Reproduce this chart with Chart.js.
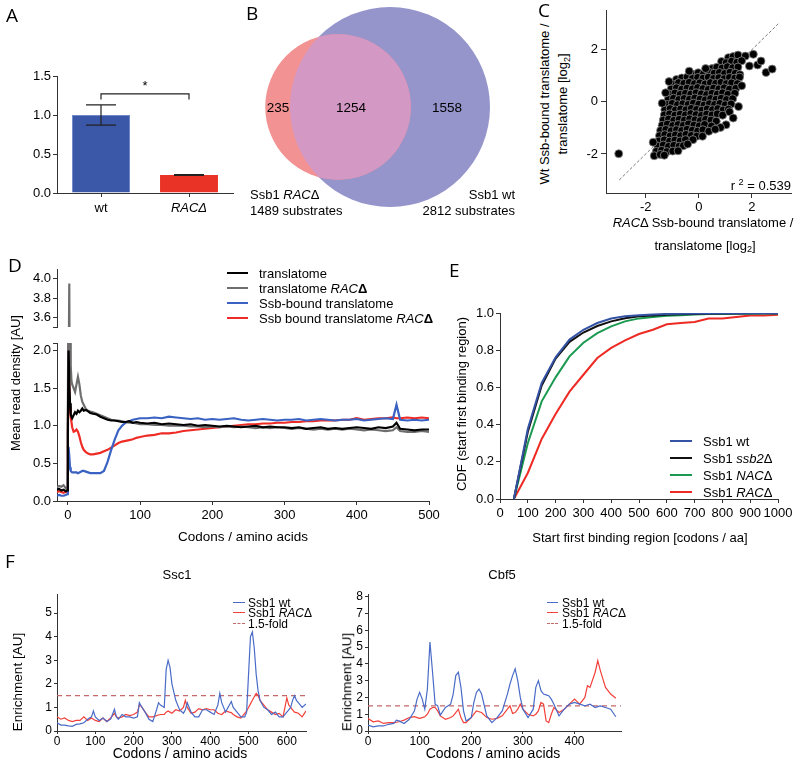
<!DOCTYPE html>
<html><head><meta charset="utf-8">
<script src="https://cdn.jsdelivr.net/npm/chart.js@4.4.0/dist/chart.umd.min.js"></script>
<style>
body{margin:0;background:#fff;}
#root{position:relative;width:800px;height:766px;overflow:hidden;font-family:'Liberation Sans',Arial,sans-serif;color:#000;}
canvas{position:absolute;}
.t{position:absolute;white-space:nowrap;line-height:1;}
.t sub{font-size:0.7em;vertical-align:-0.3em;line-height:0;}
.t sup{font-size:0.7em;vertical-align:0.5em;line-height:0;}
</style></head><body><div id="root"></div>
<script>
// ---------------- DATA ----------------
// A
const aCategories = ['wt', 'RACΔ'];
const aMeans = [1.0, 0.23];
const aErrors = [0.13, 0.005];
const aTicksY = [0, 0.5, 1.0, 1.5];
const aSignificance = { from: 0, to: 1, level: 1.27, label: '*' };

// B
const vennSets = ['Ssb1 RACΔ', 'Ssb1 wt'];
const vennTotals = [1489, 2812];
const vennOnly = [235, 1558];
const vennShared = 1254;

// C
const cPoints = [
 [1.12,1.70],[1.30,1.74],[1.48,1.80],[1.76,1.76],[2.06,1.83],
 [0.86,1.55],[1.04,1.50],[1.24,1.56],[1.44,1.52],[1.62,1.58],
 [0.50,1.28],[0.68,1.33],[0.88,1.30],[1.08,1.35],[1.28,1.31],[1.48,1.34],[1.91,1.38],[2.22,1.42],[2.35,1.57],
 [-0.22,1.06],[-0.02,1.12],[0.18,1.08],[0.38,1.14],[0.58,1.10],[0.78,1.13],[0.98,1.09],[1.18,1.14],[1.38,1.10],[1.55,1.05],[2.54,1.13],[2.77,1.26],
 [-0.84,0.86],[-0.64,0.92],[-0.44,0.95],[-0.24,0.90],[-0.04,0.94],[0.16,0.91],[0.36,0.95],[0.56,0.90],[0.76,0.93],[0.96,0.89],[1.16,0.94],[1.36,0.91],[1.54,0.95],
 [-0.96,0.68],[-0.76,0.74],[-0.56,0.71],[-0.36,0.75],[-0.16,0.70],[0.04,0.73],[0.24,0.69],[0.44,0.74],[0.64,0.71],[0.84,0.75],[1.04,0.70],[1.24,0.73],[1.46,0.70],
 [-1.04,0.50],[-0.84,0.54],[-0.64,0.49],[-0.44,0.53],[-0.24,0.50],[-0.04,0.55],[0.16,0.51],[0.36,0.48],[0.56,0.53],[0.76,0.50],[0.96,0.54],[1.16,0.49],[1.40,0.52],
 [-1.10,0.30],[-0.90,0.34],[-0.70,0.29],[-0.50,0.33],[-0.30,0.30],[-0.10,0.35],[0.10,0.31],[0.30,0.28],[0.50,0.33],[0.70,0.30],[0.90,0.35],[1.10,0.29],[1.36,0.33],
 [-1.15,0.10],[-0.95,0.14],[-0.75,0.09],[-0.55,0.13],[-0.35,0.10],[-0.15,0.15],[0.05,0.11],[0.25,0.08],[0.45,0.13],[0.65,0.10],[0.85,0.14],[1.05,0.09],[1.28,0.12],
 [-1.20,-0.10],[-1.00,-0.06],[-0.80,-0.11],[-0.60,-0.07],[-0.40,-0.10],[-0.20,-0.05],[0.00,-0.09],[0.20,-0.12],[0.40,-0.07],[0.60,-0.10],[0.80,-0.06],[1.00,-0.11],[1.22,-0.08],
 [-1.28,-0.30],[-1.08,-0.26],[-0.88,-0.31],[-0.68,-0.27],[-0.48,-0.30],[-0.28,-0.25],[-0.08,-0.29],[0.12,-0.32],[0.32,-0.27],[0.52,-0.30],[0.72,-0.26],[0.92,-0.31],[1.12,-0.28],
 [-1.30,-0.50],[-1.10,-0.46],[-0.90,-0.51],[-0.70,-0.47],[-0.50,-0.50],[-0.30,-0.45],[-0.10,-0.49],[0.10,-0.52],[0.30,-0.47],[0.50,-0.50],[0.70,-0.46],[0.90,-0.51],[1.16,-0.38],
 [-1.34,-0.70],[-1.14,-0.66],[-0.94,-0.71],[-0.74,-0.67],[-0.54,-0.70],[-0.34,-0.65],[-0.14,-0.69],[0.06,-0.72],[0.26,-0.67],[0.46,-0.70],[0.66,-0.74],[1.03,-0.88],
 [-1.38,-0.90],[-1.18,-0.86],[-0.98,-0.91],[-0.78,-0.87],[-0.58,-0.90],[-0.38,-0.85],[-0.18,-0.89],[0.02,-0.92],[0.22,-0.87],[0.48,-0.93],
 [-1.44,-1.10],[-1.24,-1.06],[-1.04,-1.11],[-0.84,-1.07],[-0.64,-1.10],[-0.44,-1.05],[-0.24,-1.09],[-0.04,-1.12],[0.16,-1.07],[0.38,-1.13],
 [-1.48,-1.30],[-1.28,-1.26],[-1.08,-1.31],[-0.88,-1.27],[-0.68,-1.30],[-0.48,-1.25],[-0.28,-1.29],[-0.08,-1.32],[0.14,-1.32],
 [-1.50,-1.50],[-1.30,-1.46],[-1.10,-1.51],[-0.90,-1.47],[-0.70,-1.50],[-0.50,-1.45],[-0.22,-1.45],
 [-1.54,-1.70],[-1.34,-1.66],[-1.14,-1.71],[-0.94,-1.67],[-0.74,-1.70],[-0.58,-1.68],
 [-1.60,-1.90],[-1.40,-1.86],[-1.20,-1.91],[-0.98,-1.89],
 [-1.68,-2.07],[-1.45,-2.02],[-1.30,-2.05],
 [-1.12,0.78],[-1.25,0.35],[-1.38,-0.05],[1.62,0.62],[1.50,-0.18],[0.82,-0.98],[0.62,-1.05],[-0.42,-1.62],[-0.78,-1.88],[-1.72,-1.55],[-0.36,1.18],[0.26,1.28],[1.30,-0.62],
 [-3.02,-1.99]
];
const cIdentity = [-3, 3];
const cTicks = [-2, 0, 2];
const cR2 = '0.539';

// D
const dCodons = [-15,-12,-9,-6,-3,-1,0,1,2,3,4,5,6,8,10,12,14,16,18,20,22,25,28,31,35,40,45,50,55,60,65,70,75,80,85,90,95,100,
 110,120,130,140,150,160,170,180,190,200,210,220,230,240,250,260,270,280,290,300,310,320,330,340,350,360,370,380,390,400,410,420,430,440,450,455,460,470,480,490,500];
const dTranslatome = [0.15,0.16,0.14,0.15,0.13,0.14, 0.9,2.0,1.6,1.3,1.15,1.12,1.1, 1.14,1.18,1.16,1.2,1.18,1.2,1.23,1.2, 1.21,1.19,1.17,1.16,
 1.15,1.12,1.1,1.08,1.07,1.07,1.06,1.05,1.05,1.06,1.04,1.05,1.04,
 1.03,1.04,1.02,1.03,1.02,1.01,1.02,1.0,1.01,1.0, 0.99,1.0,0.99,0.98,0.99,1.0,0.98,0.99,0.98,0.98,
 0.97,0.98,0.96,0.97,0.98,0.96,0.97,0.96,0.97,0.98, 0.97,0.96,0.98,0.97,0.99, 1.04, 0.96,0.95,0.94,0.95,0.95];
const dTranslatomeRac = [0.18,0.2,0.19,0.21,0.17,0.18, 1.2,2.9,3.95,2.2,1.8,1.6,1.55, 1.5,1.45,1.55,1.65,1.55,1.4,1.32,1.28, 1.22,1.2,1.19,1.18,
 1.16,1.14,1.12,1.1,1.08,1.07,1.07,1.06,1.05,1.04,1.04,1.03,1.02,
 1.02,1.01,1.01,1.0,1.0,1.0,0.99,0.99,0.98,0.99, 0.98,0.99,0.98,0.99,0.98,0.97,0.98,0.97,0.98,0.97,
 0.96,0.97,0.96,0.95,0.96,0.95,0.96,0.95,0.96,0.95, 0.94,0.95,0.94,0.93,0.94, 0.98, 0.93,0.92,0.92,0.93,0.92];
const dSsbBound = [0.07,0.08,0.07,0.07,0.08,0.09, 0.3,0.72,0.6,0.45,0.4,0.39,0.38, 0.38,0.38,0.38,0.37,0.38,0.39,0.4,0.4, 0.39,0.38,0.37,0.37,
 0.37,0.37,0.4,0.52,0.68,0.82,0.94,1.0,1.04,1.06,1.08,1.09,1.1,
 1.1,1.11,1.1,1.12,1.11,1.1,1.09,1.1,1.08,1.09, 1.08,1.09,1.1,1.08,1.07,1.08,1.09,1.08,1.07,1.08,
 1.08,1.09,1.07,1.08,1.09,1.08,1.07,1.08,1.08,1.09, 1.07,1.08,1.09,1.1,1.09, 1.28, 1.08,1.07,1.08,1.07,1.08];
const dSsbBoundRac = [0.12,0.13,0.12,0.11,0.12,0.12, 0.7,2.15,1.5,1.25,1.12,1.05,0.98, 0.92,0.93,0.95,0.92,0.86,0.78,0.72,0.68, 0.65,0.63,0.62,0.62,
 0.63,0.64,0.66,0.68,0.71,0.74,0.77,0.79,0.8,0.81,0.82,0.84,0.85,
 0.87,0.88,0.9,0.9,0.91,0.93,0.94,0.95,0.96,0.97, 0.98,0.99,1.0,1.01,1.02,1.02,1.03,1.03,1.04,1.04,
 1.05,1.05,1.06,1.06,1.07,1.07,1.07,1.08,1.08,1.1, 1.08,1.09,1.1,1.1,1.11, 1.1, 1.1,1.11,1.1,1.11,1.1];
const dTicksX = [0, 100, 200, 300, 400, 500];
const dTicksYLow = [0, 0.5, 1.0, 1.5, 2.0, 2.1];
const dTicksYHigh = [3.5, 3.6, 3.8, 4.0];

// E
const eStart = [50,100,150,200,250,300,350,400,450,500,550,600,650,700,750,800,850,900,950,1000];
const eWt   = [0,0.376,0.624,0.762,0.857,0.91,0.946,0.97,0.982,0.988,0.992,0.995,0.996,0.997,0.997,0.998,0.998,0.998,0.999,0.999];
const eSsb2 = [0,0.36,0.61,0.755,0.845,0.895,0.93,0.955,0.972,0.982,0.987,0.99,0.993,0.995,0.996,0.997,0.997,0.998,0.998,0.998];
const eNac  = [0,0.30,0.525,0.654,0.767,0.84,0.892,0.928,0.955,0.971,0.978,0.985,0.988,0.992,0.994,0.995,0.996,0.996,0.997,0.997];
const eRac  = [0,0.14,0.323,0.457,0.577,0.668,0.758,0.812,0.853,0.887,0.91,0.939,0.946,0.952,0.97,0.971,0.978,0.986,0.987,0.99];
const eTicksX = [0,100,200,300,400,500,600,700,800,900,1000];
const eTicksY = [0,0.2,0.4,0.6,0.8,1.0];

// F
const ssc1Codons = [0,10,20,30,40,50,60,70,80,90,95,100,110,120,130,140,150,155,160,170,180,190,200,210,215,220,230,240,250,260,265,270,280,285,290,295,300,310,320,330,335,340,350,360,370,380,390,400,410,420,425,430,440,450,455,460,470,480,490,495,500,505,510,515,520,525,530,540,550,560,570,580,590,600,605,610,615,620,625,630,640,650];
const ssc1Wt = [0.35,0.25,0.25,0.22,0.2,0.28,0.3,0.35,0.5,0.6, 0.85, 0.6,0.45,0.55,0.4,0.5,0.92, 0.6, 0.5,0.7,0.6,0.6,0.55,0.6, 1.2, 1.05,0.8,0.5,0.4,0.9, 1.2, 1.1,1.0, 2.6,3.0,2.7, 2.0,1.3,0.9,0.75, 0.9, 1.2,0.8,0.6,0.6,0.9,0.9,0.8,0.7,1.1, 1.6, 1.2,0.8,1.1, 1.25, 1.0,0.8,0.6,0.6, 0.8, 2.4, 4.0,4.2,3.5,2.4,1.7, 1.3,1.0,0.9,0.7,0.8,0.6,0.6,0.8, 0.9,1.0,1.3,1.5,1.3, 1.2,1.0,1.15];
const ssc1Rac = [0.6,0.5,0.55,0.45,0.4,0.45,0.45,0.6,0.45,0.55, 0.5, 0.45,0.4,0.55,0.4,0.55,0.75, 0.6, 0.55,0.6,0.7,0.65,0.7,0.8, 1.1, 1.05,0.8,0.6,0.6,0.65, 0.68, 0.7,0.7, 0.8,0.85,0.8, 0.75,0.9,0.85,1.0, 1.3, 1.0,0.75,0.8,0.95,0.9,0.95,0.9,0.9,0.75, 0.72, 0.7,0.85,0.8, 0.78, 0.7,0.6,0.55,0.75, 0.85, 1.0, 1.15,1.3,1.45,1.6,1.5, 1.3,1.1,0.9,0.8,0.7,0.75,0.6,1.4, 1.1,1.0,0.9,0.8,0.78, 0.75,0.6,0.85];
const cbf5Codons = [0,10,20,30,40,50,55,60,70,80,90,95,100,105,110,115,120,125,130,135,140,150,160,165,170,175,180,185,190,200,205,210,215,220,230,240,250,260,270,275,280,285,290,295,300,310,320,325,330,335,340,345,350,355,360,370,380,390,400,410,420,425,430,440,445,450,460,470,480];
const cbf5Wt = [0.35,0.25,0.3,0.3,0.4,0.45, 0.65, 0.6,0.45,0.7,1.2, 1.9,2.3,1.9,1.3,2.5,5.3,3.5,1.6,1.5,0.95, 1.4,1.6, 2.2,3.3,3.5,2.6,1.2,0.6, 0.8,1.7,2.3,2.5,2.2, 0.9,0.5,0.8,1.2,2.2, 2.8,3.3,3.7,3.0,2.0,1.3, 0.8,1.3, 2.6,3.0,2.4,2.2,2.15,2.1,1.9,1.6, 0.9,1.3,1.6,1.7,1.6,1.5, 1.55,1.6, 1.4,1.45,1.5, 1.4,1.3,0.85];
const cbf5Rac = [0.75,0.55,0.6,0.45,0.5,0.5, 0.52, 0.55,0.65,0.8,0.85, 0.8,0.75,0.8,0.85,1.0,1.3,1.4,1.4,1.2,0.9, 0.7,0.8, 0.9,1.1,1.3,0.8,0.5,0.5, 0.8,1.0,1.2,1.15,1.1, 0.8,0.7,0.75,0.9,1.3, 1.5,1.05,1.1,1.3,1.6,1.3, 1.0,0.9, 1.0,1.2,1.7,1.6,0.6,0.5,1.0,1.4, 1.1,1.3,1.6,1.9,1.6,2.0, 2.7,2.6, 3.5,4.2,3.6, 2.6,2.2,1.95];
const foldThreshold = 1.5;
const ssc1TicksX = [0,100,200,300,400,500,600];
const ssc1TicksY = [0,1,2,3,4,5];
const cbf5TicksX = [0,100,200,300,400];
const cbf5TicksY = [0,1,2,3,4,5,6,7,8];

// ---------------- STYLE / HELPERS ----------------
const FONT = "'Liberation Sans', Arial, sans-serif";
const AXIS = '#333';
const C_BLUE_BAR = '#3b57a7', C_RED_BAR = '#ea3327';
const V_RED = '#f29292', V_BLUE = '#9595cc', V_OVERLAP = '#d398c4';
const D_COLORS = ['#000000', '#6e6e6e', '#3a62c2', '#ee2b25'];
const E_COLORS = ['#3553a5', '#111111', '#1a9a50', '#ee2a24'];
const F_BLUE = '#4a6cc8', F_RED = '#f2413a', F_DASH = '#c46a6a';

const root = document.getElementById('root');

function addText(html, x, y, o = {}) {
  const d = document.createElement('div');
  d.className = 't';
  d.innerHTML = html;
  d.style.fontSize = (o.size || 13) + 'px';
  d.style.left = x + 'px';
  d.style.top = y + 'px';
  if (o.family) d.style.fontFamily = o.family;
  if (o.lh) d.style.lineHeight = o.lh + 'px';
  if (o.center) d.style.textAlign = 'center';
  let tr = 'translate(-50%,-50%)';
  if (o.rot) tr = 'translate(-50%,-50%) rotate(-90deg)';
  else if (o.align === 'l') tr = 'translate(0,-50%)';
  else if (o.align === 'r') tr = 'translate(-100%,-50%)';
  else if (o.align === 'tl') tr = 'none';
  d.style.transform = tr;
  root.appendChild(d);
  return d;
}

function legend(x0, x1, tx, ys, items, size) {
  items.forEach((it, i) => {
    const s = document.createElement('div');
    s.style.cssText = `position:absolute;left:${x0}px;top:${ys[i] - it.w / 2}px;width:${x1 - x0}px;height:0;border-top:${it.w}px ${it.dash ? 'dashed' : 'solid'} ${it.color};`;
    root.appendChild(s);
    addText(it.label, tx, ys[i], { align: 'l', size });
  });
}

function axis(o) {
  const cfg = {
    type: o.type || 'linear',
    display: true,
    border: { display: true, color: AXIS, width: 1 },
    grid: { drawOnChartArea: false, drawTicks: true, tickLength: o.tl ?? 4, color: AXIS, lineWidth: 1, offset: false },
    ticks: { color: '#000', font: o.font || { family: FONT, size: o.fs || 13 }, padding: o.pad ?? 2, autoSkip: false, maxRotation: 0, minRotation: 0,
             callback: o.fmt || (v => String(v)) },
    afterFit: (ax) => { if (ax.isHorizontal()) ax.height = o.size; else ax.width = o.size; }
  };
  if (cfg.type === 'linear') { cfg.min = o.min; cfg.max = o.max; }
  if (o.ticks) cfg.afterBuildTicks = (ax) => { ax.ticks = o.ticks.map(v => ({ value: v })); };
  return cfg;
}

function makeChart(box, area, config) {
  const c = document.createElement('canvas');
  c.width = box[2] - box[0]; c.height = box[3] - box[1];
  c.style.left = box[0] + 'px'; c.style.top = box[1] + 'px';
  root.appendChild(c);
  const o = config.options = config.options || {};
  o.responsive = false; o.maintainAspectRatio = false; o.animation = false; o.devicePixelRatio = 1; o.events = [];
  o.layout = { autoPadding: false, padding: { left: config.hiddenY ? area[0] - box[0] : 0, top: area[1] - box[1], right: box[2] - area[2], bottom: config.hiddenX ? box[3] - area[3] : 0 } };
  o.plugins = Object.assign({ legend: { display: false }, tooltip: { enabled: false }, title: { display: false } }, o.plugins || {});
  return new Chart(c.getContext('2d'), config);
}
const xy = (xs, ys) => xs.map((x, i) => ({ x, y: ys[i] }));
const line = (data, color, w, extra) => Object.assign({ data, borderColor: color, backgroundColor: color, borderWidth: w, pointRadius: 0, tension: 0, fill: false }, extra || {});

// ---------------- PANEL A ----------------
const aPlugin = {
  id: 'aErr',
  afterDatasetsDraw(ch) {
    const ctx = ch.ctx, y = ch.scales.y, meta = ch.getDatasetMeta(0);
    ctx.save(); ctx.strokeStyle = '#222'; ctx.lineWidth = 1.2;
    aMeans.forEach((m, i) => {
      const x = meta.data[i].x, t = y.getPixelForValue(m + aErrors[i]), b = y.getPixelForValue(m - aErrors[i]);
      ctx.beginPath(); ctx.moveTo(x, t); ctx.lineTo(x, b);
      ctx.moveTo(x - 15, t); ctx.lineTo(x + 15, t); ctx.moveTo(x - 15, b); ctx.lineTo(x + 15, b); ctx.stroke();
    });
    const x1 = meta.data[aSignificance.from].x, x2 = meta.data[aSignificance.to].x;
    const yl = y.getPixelForValue(aSignificance.level), yb = y.getPixelForValue(aSignificance.level - 0.07);
    ctx.beginPath(); ctx.moveTo(x1, yb); ctx.lineTo(x1, yl); ctx.lineTo(x2, yl); ctx.lineTo(x2, yb); ctx.stroke();
    ctx.fillStyle = '#000'; ctx.font = '13px ' + FONT; ctx.textAlign = 'center'; ctx.textBaseline = 'bottom';
    ctx.fillText(aSignificance.label, (x1 + x2) / 2, yl - 1);
    ctx.restore();
  }
};
makeChart([30, 60, 240, 225], [57, 76, 233, 193], {
  type: 'bar',
  data: { labels: aCategories, datasets: [{ data: aMeans, backgroundColor: [C_BLUE_BAR, C_RED_BAR], borderColor: ['#7088c8', C_RED_BAR], borderWidth: 1, barPercentage: 0.66, categoryPercentage: 1 }] },
  options: { scales: {
    x: Object.assign(axis({ type: 'category', size: 32, pad: 3, tl: 4 }), { ticks: { color: '#000', padding: 4, autoSkip: false, maxRotation: 0, font: (c) => ({ family: FONT, size: 13, style: c.index === 1 ? 'italic' : 'normal' }) } }),
    y: axis({ min: 0, max: 1.5, ticks: aTicksY, fmt: v => v.toFixed(1), size: 27 })
  } },
  plugins: [aPlugin]
});

// ---------------- PANEL B ----------------
const vennCenters = [[98, 107], [150, 107]];
const vennMaxR = 100;
const vennR = vennTotals.map(n => vennMaxR * Math.sqrt(n / Math.max(...vennTotals)));
const vennPlugin = {
  id: 'vennOverlap',
  afterDatasetsDraw(ch) {
    const a = ch.getDatasetMeta(0).data[0], b = ch.getDatasetMeta(1).data[0];
    const ctx = ch.ctx; ctx.save();
    ctx.beginPath(); ctx.arc(a.x, a.y, a.options.radius, 0, Math.PI * 2); ctx.clip();
    ctx.beginPath(); ctx.arc(b.x, b.y, b.options.radius, 0, Math.PI * 2); ctx.fillStyle = V_OVERLAP; ctx.fill();
    ctx.restore();
  }
};
makeChart([240, 0, 530, 230], [240, 0, 530, 230], {
  type: 'bubble', hiddenX: true, hiddenY: true,
  data: { datasets: [
    { data: [{ x: vennCenters[0][0], y: vennCenters[0][1], r: vennR[0] }], backgroundColor: V_RED, borderWidth: 0, clip: false },
    { data: [{ x: vennCenters[1][0], y: vennCenters[1][1], r: vennR[1] }], backgroundColor: V_BLUE, borderWidth: 0, clip: false }
  ] },
  options: { scales: { x: { type: 'linear', min: 0, max: 290, display: false }, y: { type: 'linear', min: 0, max: 230, reverse: true, display: false } } },
  plugins: [vennPlugin]
});
addText(String(vennOnly[0]), 278, 108, { size: 13.5 });
addText(String(vennShared), 351, 108, { size: 13.5 });
addText(String(vennOnly[1]), 447, 108, { size: 13.5 });
addText('Ssb1 <i>RAC</i>Δ', 250, 194, { align: 'l' });
addText(vennTotals[0] + ' substrates', 250, 210, { align: 'l' });
addText('Ssb1 wt', 515, 194, { align: 'r' });
addText(vennTotals[1] + ' substrates', 515, 210, { align: 'r' });

// ---------------- PANEL C ----------------
makeChart([575, 0, 800, 230], [606, 8, 791.5, 193], {
  type: 'scatter',
  data: { datasets: [
    { data: cPoints.map(p => ({ x: p[0], y: p[1] })), pointRadius: 4, backgroundColor: '#000', borderColor: '#8c8c8c', borderWidth: 0.8 },
    { data: cIdentity.map(v => ({ x: v, y: v })), showLine: true, borderColor: '#777', borderWidth: 1, borderDash: [3, 2], pointRadius: 0 }
  ] },
  options: { scales: {
    x: axis({ min: -3.5, max: 3.5, ticks: cTicks, size: 37, tl: 5, pad: 2 }),
    y: axis({ min: -3.5, max: 3.5, ticks: cTicks, size: 31, tl: 5, pad: 3 })
  } }
});
addText('Wt Ssb-bound translatome /<br>translatome [log<sub>2</sub>]', 554, 104, { rot: true, lh: 18, center: true });
addText('<i>RAC</i>Δ Ssb-bound translatome /', 703, 222, {});
addText('translatome [log<sub>2</sub>]', 705, 245, {});
addText('r <sup>2</sup> = ' + cR2, 791, 185, { align: 'r' });

// ---------------- PANEL D ----------------
function dDatasets() {
  return [
    line(xy(dCodons, dTranslatome), D_COLORS[0], 2.2),
    line(xy(dCodons, dTranslatomeRac), D_COLORS[1], 2.2),
    line(xy(dCodons, dSsbBound), D_COLORS[2], 2.2),
    line(xy(dCodons, dSsbBoundRac), D_COLORS[3], 2.2)
  ];
}
makeChart([20, 256, 445, 345], [57, 269, 429, 327], {
  type: 'line', hiddenX: true,
  data: { datasets: dDatasets() },
  options: { scales: {
    x: { type: 'linear', min: -15, max: 500, display: false },
    y: axis({ min: 3.5, max: 4.1, ticks: dTicksYHigh, fmt: v => v === 3.5 ? '' : v.toFixed(1), size: 37, pad: 2 })
  } }
});
makeChart([20, 330, 445, 530], [57, 343, 429, 501], {
  type: 'line',
  data: { datasets: dDatasets() },
  options: { scales: {
    x: axis({ min: -15, max: 500, ticks: dTicksX, size: 29, pad: 3 }),
    y: axis({ min: 0, max: 2.1, ticks: dTicksYLow, fmt: v => v === 2.1 ? '' : v.toFixed(1), size: 37, pad: 2 })
  } }
});
addText('Mean read density [AU]', 15, 383, { rot: true });
addText('Codons / amino acids', 243, 537, { size: 13.5 });
legend(227, 248, 259, [273, 288, 303, 318], [
  { label: 'translatome', color: D_COLORS[0], w: 2.5 },
  { label: 'translatome <i>RAC</i><b>Δ</b>', color: D_COLORS[1], w: 2.5 },
  { label: 'Ssb-bound translatome', color: D_COLORS[2], w: 2.5 },
  { label: 'Ssb bound translatome <i>RAC</i><b>Δ</b>', color: D_COLORS[3], w: 2.5 }
], 13);

// ---------------- PANEL E ----------------
makeChart([470, 300, 800, 530], [500, 313, 778, 499], {
  type: 'line',
  data: { datasets: [
    line(xy(eStart, eWt), E_COLORS[0], 2),
    line(xy(eStart, eSsb2), E_COLORS[1], 2),
    line(xy(eStart, eNac), E_COLORS[2], 2),
    line(xy(eStart, eRac), E_COLORS[3], 2)
  ] },
  options: { scales: {
    x: axis({ min: 0, max: 1000, ticks: eTicksX, size: 31, pad: 3, fmt: v => String(v) }),
    y: axis({ min: 0, max: 1.0, ticks: eTicksY, fmt: v => v.toFixed(1), size: 30, pad: 2 })
  } }
});
addText('CDF (start first binding region)', 461, 404, { rot: true });
addText('Start first binding region [codons / aa]', 640, 537, {});
legend(670, 692, 703, [441, 458, 475, 492], [
  { label: 'Ssb1 wt', color: E_COLORS[0], w: 2.5 },
  { label: 'Ssb1 <i>ssb2</i>Δ', color: E_COLORS[1], w: 2.5 },
  { label: 'Ssb1 <i>NAC</i>Δ', color: E_COLORS[2], w: 2.5 },
  { label: 'Ssb1 <i>RAC</i>Δ', color: E_COLORS[3], w: 2.5 }
], 13);

// ---------------- PANEL F ----------------
function fDatasets(xs, wt, rac, xmax) {
  return [
    line(xy(xs, wt), F_BLUE, 1.2),
    line(xy(xs, rac), F_RED, 1.2),
    line([{ x: 0, y: foldThreshold }, { x: xmax, y: foldThreshold }], F_DASH, 1.3, { borderDash: [5, 4] })
  ];
}
makeChart([25, 585, 320, 752], [57, 593, 306, 731], {
  type: 'line',
  data: { datasets: fDatasets(ssc1Codons, ssc1Wt, ssc1Rac, 650) },
  options: { scales: {
    x: axis({ min: 0, max: 650, ticks: ssc1TicksX, size: 21, fs: 12, tl: 3, pad: 0 }),
    y: axis({ min: 0, max: 5.8, ticks: ssc1TicksY, size: 32, fs: 12, tl: 3, pad: 2 })
  } }
});
makeChart([340, 585, 640, 752], [368, 593, 621, 731], {
  type: 'line',
  data: { datasets: fDatasets(cbf5Codons, cbf5Wt, cbf5Rac, 490) },
  options: { scales: {
    x: axis({ min: 0, max: 490, ticks: cbf5TicksX, size: 21, fs: 12, tl: 3, pad: 0 }),
    y: axis({ min: 0, max: 8.15, ticks: cbf5TicksY, size: 28, fs: 12, tl: 3, pad: 2 })
  } }
});
addText('Ssc1', 177, 574, {});
addText('Cbf5', 502, 574, {});
addText('Enrichment [AU]', 18, 682, { rot: true, size: 13.5 });
addText('Enrichment [AU]', 347, 682, { rot: true, size: 13.5 });
addText('Codons / amino acids', 180, 753, { size: 14 });
addText('Codons / amino acids', 493, 753, { size: 14 });
const fLegendItems = [
  { label: 'Ssb1 wt', color: F_BLUE, w: 1.3 },
  { label: 'Ssb1 <i>RAC</i>Δ', color: F_RED, w: 1.3 },
  { label: '1.5-fold', color: F_DASH, w: 1.5, dash: true }
];
legend(233, 245, 248, [603, 613, 624], fLegendItems, 12);
legend(547, 558, 562, [603, 613, 624], fLegendItems, 12);

// ---------------- PANEL LETTERS ----------------
const LETTER_FONT = "'Open Sans', sans-serif";
[['A', 6, 6], ['B', 246, 4], ['C', 538, 1], ['D', 8, 256], ['E', 449, 261], ['F', 5, 552]].forEach(([l, x, y]) =>
  addText(l, x, y, { align: 'tl', size: 19, family: LETTER_FONT }));
</script></body></html>
